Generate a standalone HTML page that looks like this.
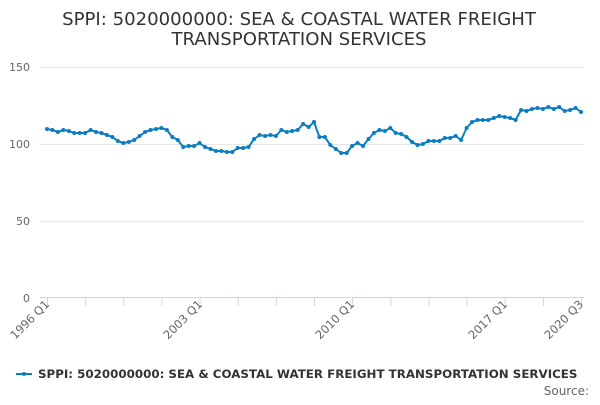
<!DOCTYPE html>
<html><head><meta charset="utf-8"><style>
body{margin:0;background:#fff;}
svg{font-family:"DejaVu Sans","Liberation Sans",sans-serif;}
</style></head><body>
<svg id="c" width="600" height="400" xmlns="http://www.w3.org/2000/svg">
<text x="299" y="25" text-anchor="middle" font-size="18.1" fill="#333">SPPI: 5020000000: SEA &amp; COASTAL WATER FREIGHT</text>
<text x="299" y="45" text-anchor="middle" font-size="18.1" fill="#333">TRANSPORTATION SERVICES</text>
<g stroke="#e6e6e6" stroke-width="1">
<line x1="40" x2="584" y1="67.5" y2="67.5"/><line x1="40" x2="584" y1="144.5" y2="144.5"/><line x1="40" x2="584" y1="221.5" y2="221.5"/>
</g>
<line x1="40" x2="584" y1="297.5" y2="297.5" stroke="#ccd6eb"/>
<g font-size="11" fill="#666" text-anchor="end">
<text x="30" y="71">150</text><text x="30" y="148">100</text><text x="30" y="225">50</text><text x="30" y="302">0</text>
</g>
<g id="ticks" stroke="#ccd6eb"></g>
<g font-size="11.5" fill="#666" text-anchor="end">
<text transform="translate(50,305) rotate(-45)">1996 Q1</text>
<text transform="translate(203,305) rotate(-45)">2003 Q1</text>
<text transform="translate(355,305) rotate(-45)">2010 Q1</text>
<text transform="translate(508,305) rotate(-45)">2017 Q1</text>
<text transform="translate(584,305) rotate(-45)">2020 Q3</text>
</g>
<polyline id="ln" fill="none" stroke="#0b7dc1" stroke-width="2"/>
<g id="pts" fill="#0b7dc1"></g>
<line x1="16" x2="32" y1="374" y2="374" stroke="#0b7dc1" stroke-width="2"/>
<circle cx="24" cy="374" r="2" fill="#0b7dc1"/>
<text x="38" y="378" font-size="11.85" font-weight="bold" fill="#333">SPPI: 5020000000: SEA &amp; COASTAL WATER FREIGHT TRANSPORTATION SERVICES</text>
<text x="589" y="395" font-size="12" fill="#666" text-anchor="end">Source:</text>
</svg>
<script>
var y=[129,130,132,130,131,133,133,133,130,132,133,135,137,141,143,142,140,136,132,130,129,128,130,137,140,147,146,146,143,147,149,151,151,152,152,148,148,147,139,135,136,135,136,130,132,131,130,124,127,122,137,137,145,149,153,153,146,143,146,139,133,130,131,128,133,134,137,142,145,144,141,141,141,138,138,136,140,128,122,120,120,120,118,116,117,118,120,110,111,109,108,109,107,109,107,111,110,108,112];
var s=534/98,p=[],g='';
for(var i=0;i<y.length;i++){var x=47+i*s;p.push(x.toFixed(1)+','+y[i]);g+='<circle cx="'+x.toFixed(1)+'" cy="'+y[i]+'" r="2"/>';}
document.getElementById('ln').setAttribute('points',p.join(' '));
document.getElementById('pts').innerHTML=g;
var t='';for(var i=0;i<=98;i+=7){var x=47.5+i*s;t+='<line x1="'+x+'" x2="'+x+'" y1="298" y2="306"/>';}
t+='<line x1="581.5" x2="581.5" y1="298" y2="306"/>';
document.getElementById('ticks').innerHTML=t;
</script>
</body></html>
